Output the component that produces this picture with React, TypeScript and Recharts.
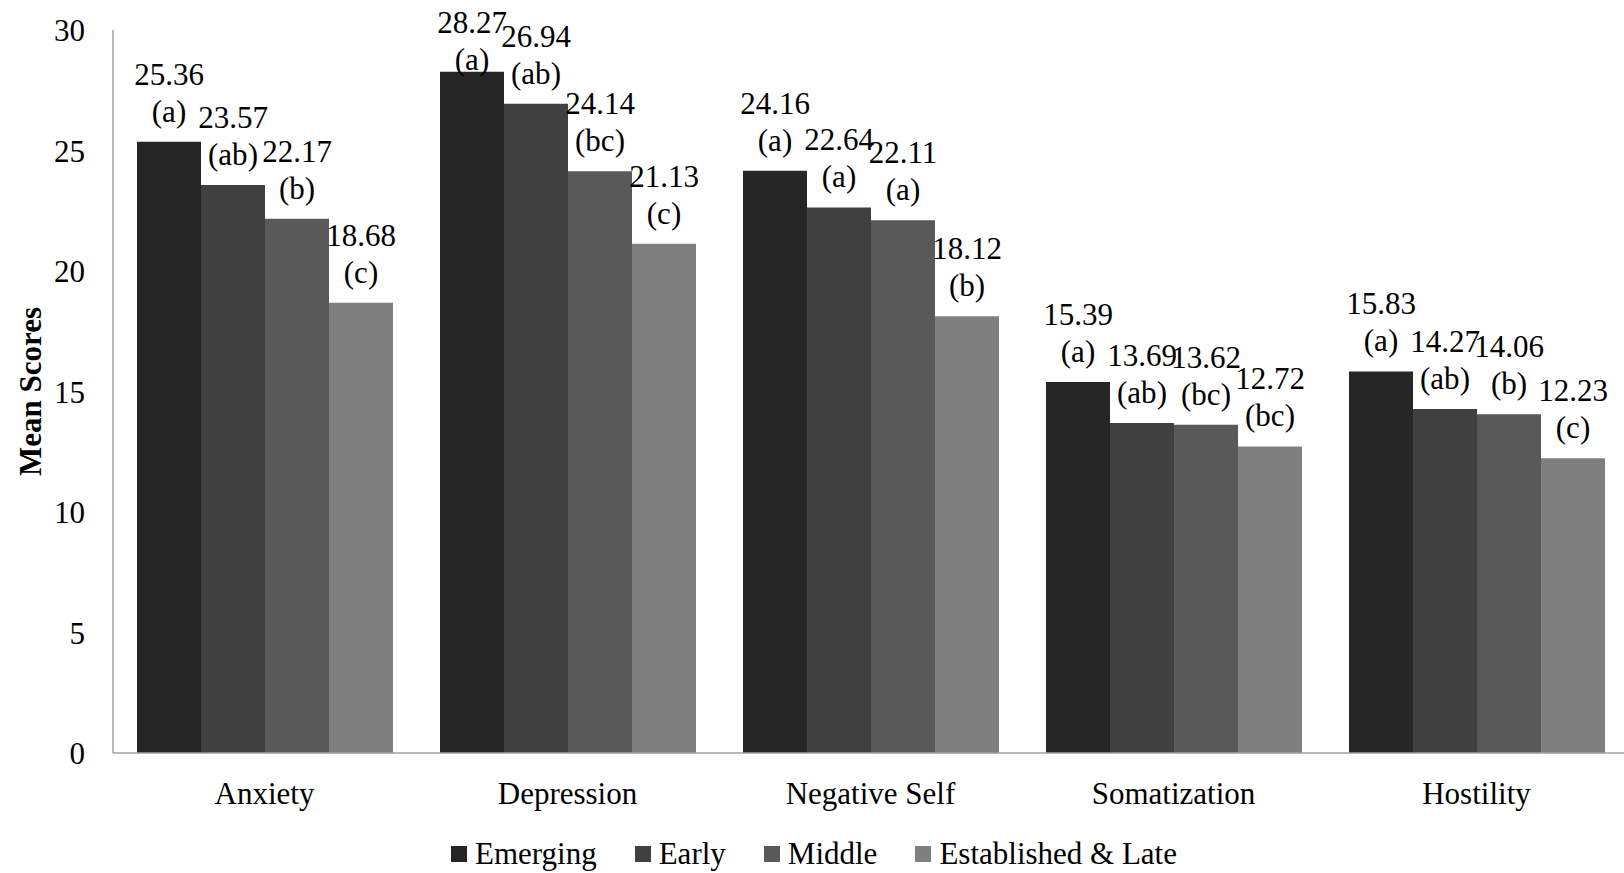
import React from 'react';
import { BarChart, Bar, XAxis, YAxis, Legend, LabelList } from 'recharts';

const categories = ['Anxiety', 'Depression', 'Negative Self', 'Somatization', 'Hostility'];
const emerging = [25.36, 28.27, 24.16, 15.39, 15.83];
const early = [23.57, 26.94, 22.64, 13.69, 14.27];
const middle = [22.17, 24.14, 22.11, 13.62, 14.06];
const established = [18.68, 21.13, 18.12, 12.72, 12.23];

const emergingGroups = ['a', 'a', 'a', 'a', 'a'];
const earlyGroups = ['ab', 'ab', 'a', 'ab', 'ab'];
const middleGroups = ['b', 'bc', 'a', 'bc', 'b'];
const establishedGroups = ['c', 'c', 'b', 'bc', 'c'];

const yTicks = [0, 5, 10, 15, 20, 25, 30];

const series = [
  { key: 'Emerging', values: emerging, groups: emergingGroups, color: '#262626' },
  { key: 'Early', values: early, groups: earlyGroups, color: '#404040' },
  { key: 'Middle', values: middle, groups: middleGroups, color: '#595959' },
  { key: 'Established & Late', values: established, groups: establishedGroups, color: '#7f7f7f' },
];

const data = categories.map((name, i) => {
  const row: Record<string, string | number> = { name };
  series.forEach(s => { row[s.key] = s.values[i]; });
  return row;
});

const FONT = '"Liberation Serif", "Times New Roman", serif';
const FS = 31;

const makeLabel = (groups: string[]) => (props: any) => {
  const vb = props.viewBox || {};
  const x = props.x ?? vb.x;
  const y = props.y ?? vb.y;
  const w = props.width ?? vb.width;
  const cx = x + w / 2;
  // two lines: value, then group letter; kept inside the chart at the top
  const valueBase = Math.max(33, y - 57);
  return (
    <g>
      <text x={cx} y={valueBase} textAnchor="middle" fontFamily={FONT} fontSize={FS} fill="#000">
        {Number(props.value).toFixed(2)}
      </text>
      <text x={cx} y={valueBase + 37} textAnchor="middle" fontFamily={FONT} fontSize={FS} fill="#000">
        ({groups[props.index]})
      </text>
    </g>
  );
};

const renderLegend = () => (
  <div style={{ display: 'flex', justifyContent: 'center', alignItems: 'center', height: 38, margin: 0, fontFamily: FONT, fontSize: FS }}>
    {series.map((s, i) => (
      <div key={s.key} style={{ display: 'flex', alignItems: 'center', marginLeft: i === 0 ? 0 : 38 }}>
        <span style={{ display: 'inline-block', width: 16, height: 16, background: s.color, marginRight: 8 }} />
        <span style={{ color: '#000', lineHeight: '38px' }}>{s.key}</span>
      </div>
    ))}
  </div>
);

const renderYLabel = (props: any) => {
  const vb = props.viewBox || {};
  const x = vb.x + 41;
  const y = vb.y + vb.height / 2;
  return (
    <text x={x} y={y} transform={`rotate(-90, ${x}, ${y})`} textAnchor="middle" fontFamily={FONT} fontSize={FS} fontWeight="bold" fill="#000">
      Mean Scores
    </text>
  );
};

export default function App() {
  return (
    <div style={{ position: 'absolute', left: 0, top: 0, width: 1624, height: 873, overflow: 'hidden', background: '#fff' }}>
      <BarChart
        width={1630}
        height={873}
        data={data}
        margin={{ top: 30, right: 2, left: 0, bottom: 0 }}
        barCategoryGap={24}
        barGap={0}
      >
        <XAxis
          dataKey="name"
          height={82}
          tickLine={false}
          tickSize={0}
          tickMargin={29}
          axisLine={{ stroke: '#a0a0a0', strokeWidth: 1.5 }}
          tick={{ fill: '#000', fontFamily: FONT, fontSize: FS }}
        />
        <YAxis
          width={113}
          domain={[0, 30]}
          ticks={yTicks}
          interval={0}
          tickLine={false}
          tickSize={0}
          tickMargin={28}
          axisLine={{ stroke: '#a0a0a0', strokeWidth: 1.5 }}
          tick={{ fill: '#000', fontFamily: FONT, fontSize: FS }}
          label={{ content: renderYLabel }}
        />
        <Legend verticalAlign="bottom" content={renderLegend} wrapperStyle={{ margin: 0, padding: 0 }} />
        {series.map(s => (
          <Bar key={s.key} dataKey={s.key} fill={s.color} isAnimationActive={false}>
            <LabelList dataKey={s.key} content={makeLabel(s.groups)} />
          </Bar>
        ))}
      </BarChart>
    </div>
  );
}
